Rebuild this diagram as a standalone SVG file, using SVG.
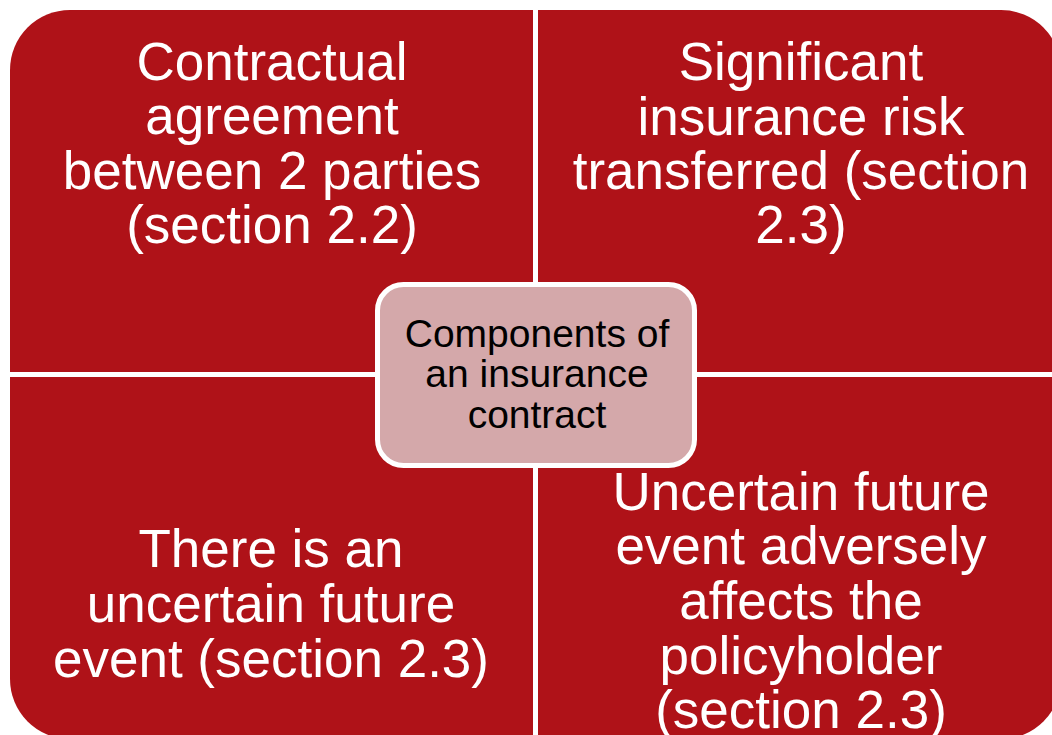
<svg xmlns="http://www.w3.org/2000/svg" width="1052" height="735" viewBox="0 0 1052 735">
<style>
.q{fill:#AF1218;}
.t{font-family:"Liberation Sans",Arial,sans-serif;font-size:53px;fill:#FFFFFF;text-anchor:middle;}
.c{font-family:"Liberation Sans",Arial,sans-serif;font-size:39px;fill:#000000;text-anchor:middle;}
</style>
<rect width="1052" height="735" fill="#FFFFFF"/>
<g id="node-tl">
<path class="q" d="M10,70 A60,60 0 0 1 70,10 L533,10 L533,372 L10,372 Z"/>
<text class="t" x="272" y="80">Contractual</text>
<text class="t" x="272" y="134">agreement</text>
<text class="t" x="272" y="189">between 2 parties</text>
<text class="t" x="272" y="243">(section 2.2)</text>
</g>
<g id="node-tr">
<path class="q" d="M538,10 L1001,10 A60,60 0 0 1 1061,70 L1061,372 L538,372 Z"/>
<text class="t" x="801" y="80">Significant</text>
<text class="t" x="801" y="135">insurance risk</text>
<text class="t" x="801" y="189">transferred (section</text>
<text class="t" x="801" y="243">2.3)</text>
</g>
<g id="node-bl">
<path class="q" d="M10,377 L533,377 L533,739 L70,739 A60,60 0 0 1 10,679 Z"/>
<text class="t" x="271" y="567">There is an</text>
<text class="t" x="271" y="622">uncertain future</text>
<text class="t" x="271" y="677">event (section 2.3)</text>
</g>
<g id="node-br">
<path class="q" d="M538,377 L1061,377 L1061,679 A60,60 0 0 1 1001,739 L538,739 Z"/>
<text class="t" x="801" y="510">Uncertain future</text>
<text class="t" x="801" y="564">event adversely</text>
<text class="t" x="801" y="619">affects the</text>
<text class="t" x="801" y="674">policyholder</text>
<text class="t" x="801" y="728">(section 2.3)</text>
</g>
<g id="connectors"></g>
<g id="node-center">
<rect x="377.5" y="284.5" width="317" height="181" rx="26" fill="#D4A8AA" stroke="#FFFFFF" stroke-width="5"/>
<text class="c" x="537" y="347">Components of</text>
<text class="c" x="537" y="387">an insurance</text>
<text class="c" x="537" y="428">contract</text>
</g>
</svg>
